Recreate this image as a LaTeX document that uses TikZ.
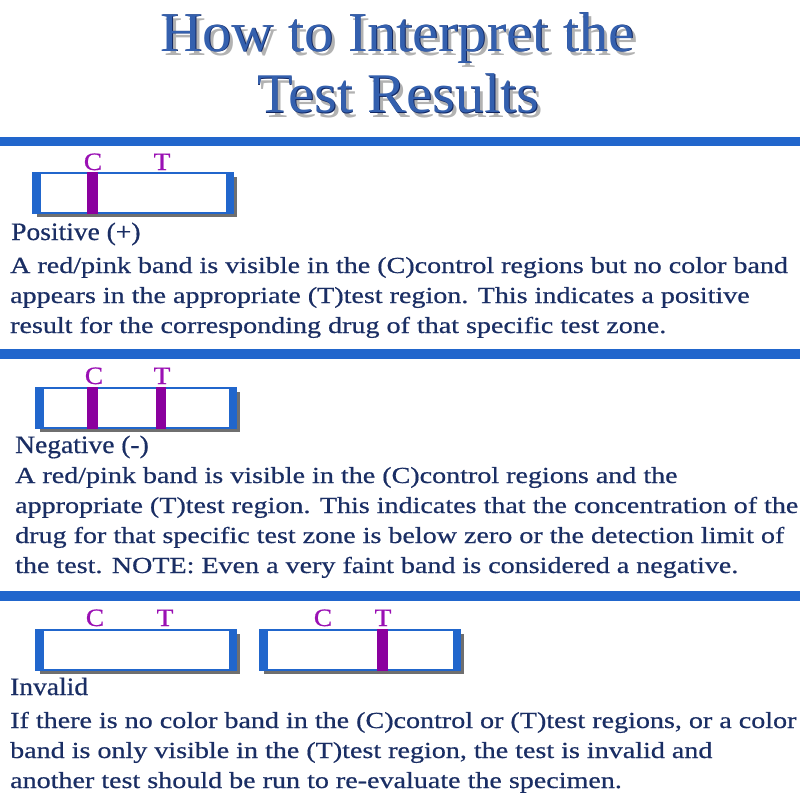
\documentclass[tikz,border=0pt]{standalone}
\usepackage{fontspec}
\setmainfont{Liberation Serif}
\newfontfamily\bodyserif[FakeStretch=1.22,FakeBold=0.6]{Liberation Serif}
\newfontfamily\headserif[FakeStretch=1.1,FakeBold=0.6]{Liberation Serif}
\newfontfamily\titleserif[FakeStretch=1.04]{Liberation Serif}
\usetikzlibrary{shadows}
\definecolor{barblue}{HTML}{2166CC}
\definecolor{bandpurple}{HTML}{8A009E}
\definecolor{lblpurple}{HTML}{9A10B4}
\definecolor{inkblue}{HTML}{1A2E64}
\definecolor{titledark}{HTML}{122762}
\definecolor{titlemid}{HTML}{3460AE}
\newcommand{\bodyfont}{\bodyserif\fontsize{23}{30}\selectfont}
\newcommand{\headfont}{\headserif\fontsize{25}{30}\selectfont}
\tikzset{
  strip/.style={draw=barblue, line width=1.5pt, fill=white, minimum width=200, minimum height=40, inner sep=0,
    drop shadow={shadow xshift=4pt, shadow yshift=-4pt, opacity=0.7, fill=black!80}},
  band/.style={fill=bandpurple},
  lbl/.style={text=lblpurple, font=\headserif\fontsize{25}{25}\selectfont, anchor=base, inner sep=0},
  para/.style={text=inkblue, font=\bodyfont, anchor=base west, align=left, inner sep=0},
  head/.style={text=inkblue, font=\headfont, anchor=base west, inner sep=0},
  ttl/.style={font=\titleserif\fontsize{56}{56}\selectfont, anchor=base, inner sep=0}
}

\begin{document}
\begin{tikzpicture}[x=1pt,y=-1pt]
  \useasboundingbox[fill=white] (0,0) rectangle (800,800);
  % title
  \node[ttl, text=black, opacity=0.3] at (401,56) {How to Interpret the};
  \node[ttl, text=titledark] (title1) at (398,52) {How to Interpret the};
  \node[ttl, text=titlemid] at (397.3,51.3) {How to Interpret the};
  \node[ttl, text=black, opacity=0.3] at (402,117) {Test Results};
  \node[ttl, text=titledark] (title2) at (399,113) {Test Results};
  \node[ttl, text=titlemid] at (398.3,112.3) {Test Results};
  % separator bars
  \fill[barblue] (0,137) rectangle (800,146);
  \fill[barblue] (0,349) rectangle (800,359);
  \fill[barblue] (0,591) rectangle (800,601);
  % positive
  \node[strip] (pos) at (133,193) {};
  \fill[barblue] (pos.north west) rectangle ([xshift=9pt]pos.south west);
  \fill[barblue] ([xshift=-8pt]pos.north east) rectangle (pos.south east);
  \fill[band] ([xshift=55pt]pos.north west) rectangle ([xshift=66pt]pos.south west);
  \node[lbl] (posc) at (93,170) {C};
  \node[lbl] (post) at (162,170) {T};
  \node[head] (poshead) at (11,240) {Positive (+)};
  \node[para] (posbody) at (10,333) {A red/pink band is visible in the (C)control regions but no color band\\
    appears in the appropriate (T)test region. This indicates a positive\\
    result for the corresponding drug of that specific test zone.};
  % negative
  \node[strip] (neg) at (136,408) {};
  \fill[barblue] (neg.north west) rectangle ([xshift=9pt]neg.south west);
  \fill[barblue] ([xshift=-8pt]neg.north east) rectangle (neg.south east);
  \fill[band] ([xshift=52pt]neg.north west) rectangle ([xshift=63pt]neg.south west);
  \fill[band] ([xshift=121pt]neg.north west) rectangle ([xshift=131pt]neg.south west);
  \node[lbl] (negc) at (94,384) {C};
  \node[lbl] (negt) at (162,384) {T};
  \node[head] (neghead) at (15,453) {Negative (-)};
  \node[para] (negbody) at (15,573) {A red/pink band is visible in the (C)control regions and the\\
    appropriate (T)test region. This indicates that the concentration of the\\
    drug for that specific test zone is below zero or the detection limit of\\
    the test. NOTE: Even a very faint band is considered a negative.};
  % invalid
  \node[strip] (inva) at (136,650) {};
  \fill[barblue] (inva.north west) rectangle ([xshift=9pt]inva.south west);
  \fill[barblue] ([xshift=-8pt]inva.north east) rectangle (inva.south east);
  \node[strip] (invb) at (360,650) {};
  \fill[barblue] (invb.north west) rectangle ([xshift=9pt]invb.south west);
  \fill[barblue] ([xshift=-8pt]invb.north east) rectangle (invb.south east);
  \fill[band] ([xshift=118pt]invb.north west) rectangle ([xshift=129pt]invb.south west);
  \node[lbl] (invac) at (95,626) {C};
  \node[lbl] (invat) at (165,626) {T};
  \node[lbl] (invbc) at (323,626) {C};
  \node[lbl] (invbt) at (383,626) {T};
  \node[head] (invhead) at (10,695) {Invalid};
  \node[para] (invbody) at (10,788) {If there is no color band in the (C)control or (T)test regions, or a color\\
    band is only visible in the (T)test region, the test is invalid and\\
    another test should be run to re-evaluate the specimen.};
\end{tikzpicture}
\end{document}
